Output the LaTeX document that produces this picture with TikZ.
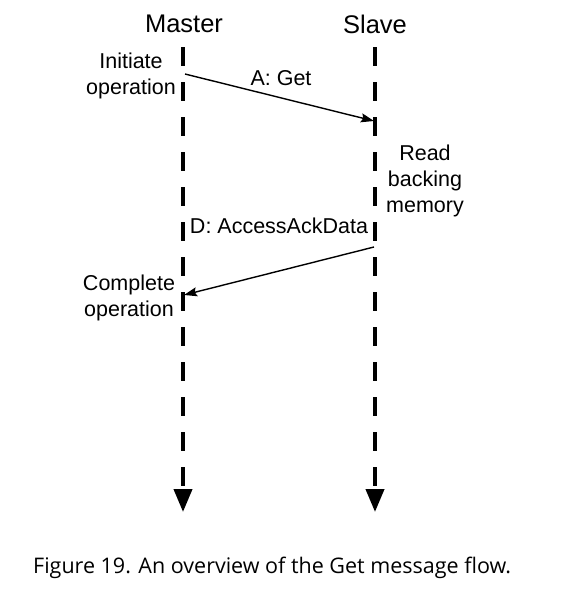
\documentclass[tikz,border=0pt]{standalone}
\usepackage{fontspec}
\setmainfont{Liberation Sans}
\newfontfamily\capfont{Open Sans}
\usetikzlibrary{arrows.meta}
\begin{document}
\begin{tikzpicture}[x=1pt,y=-1pt,
  lifeline/.style={line width=4pt,dash pattern=on 19pt off 16pt,-{Triangle[length=23pt,width=18pt]}},
  msg/.style={line width=1.4pt,-{Stealth[length=13pt,width=9pt,inset=2pt]}},
  lbl/.style={inner sep=0pt,align=center,font=\fontsize{21.5}{26}\selectfont},
  head/.style={inner sep=0pt,font=\fontsize{25.5}{30}\selectfont}]
\useasboundingbox[fill=white] (0,0) rectangle (563,600);
% headers
\node[head] (master) at (184,24) {Master};
\node[head] (slave) at (375,24) {Slave};
% lifelines
\coordinate (m0) at (183,47);
\coordinate (m1) at (183,512);
\coordinate (s0) at (375,47);
\coordinate (s1) at (375,512);
\draw[lifeline] (m0) -- (m1);
\draw[lifeline] (s0) -- (s1);
% message endpoints
\coordinate (aS) at (185,74);
\coordinate (aE) at (374,121);
\coordinate (dS) at (374,247);
\coordinate (dE) at (184,295);
\draw[msg] (aS) -- (aE);
\draw[msg] (dS) -- (dE);
% labels
\node[lbl] (ga) at (281,78) {A: Get};
\node[lbl] (gd) at (279,226) {D: AccessAckData};
\node[lbl] (init) at (131,76) {Initiate\\operation};
\node[lbl] (read) at (425,181) {Read\\backing\\memory};
\node[lbl] (comp) at (129,298) {Complete\\operation};
% caption
\node[inner sep=0pt,anchor=west,font=\capfont\fontsize{21.5}{26}\selectfont] (cap) at (33,568) {Figure 19. An overview of the Get message flow.};
\end{tikzpicture}
\end{document}
